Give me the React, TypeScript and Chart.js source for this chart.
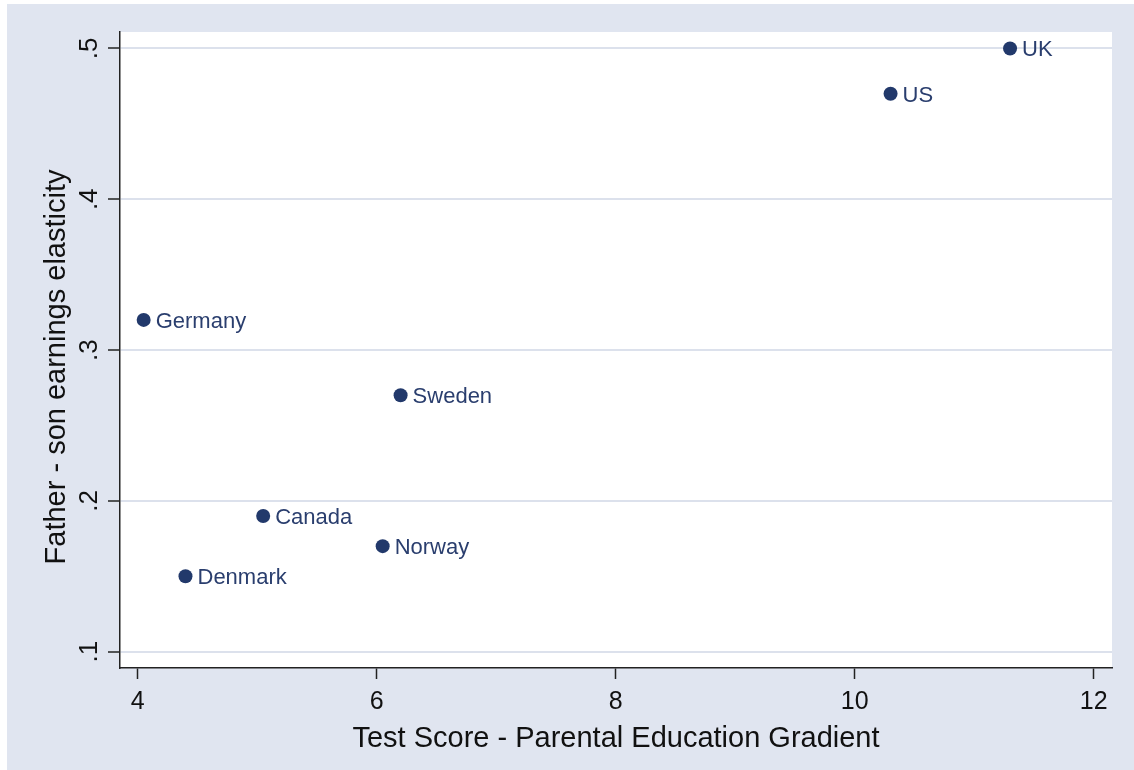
import { useEffect, useRef } from "react";
import { Chart, registerables } from "chart.js";

Chart.register(...registerables);

const countries = ["UK", "US", "Germany", "Sweden", "Canada", "Norway", "Denmark"];
const gradient = [11.3, 10.3, 4.05, 6.2, 5.05, 6.05, 4.4];
const elasticity = [0.5, 0.47, 0.32, 0.27, 0.19, 0.17, 0.15];
const xTicks = [4, 6, 8, 10, 12];
const yTicks = [0.1, 0.2, 0.3, 0.4, 0.5];
const yTickLabels = [".1", ".2", ".3", ".4", ".5"];
const xTitle = "Test Score - Parental Education Gradient";
const yTitle = "Father - son earnings elasticity";

const FONT = "'Liberation Sans', Arial, sans-serif";
const BG = "#E0E5F0";
const NAVY = "#22396B";
const LABEL = "#2A3E6E";
const INK = "#111111";

const decor = {
  id: "decor",
  beforeDraw(chart: any) {
    const { ctx, width, height, chartArea: a } = chart;
    ctx.save();
    ctx.fillStyle = "#ffffff";
    ctx.fillRect(0, 0, width, height);
    ctx.fillStyle = BG;
    ctx.fillRect(7, 4, width - 7, height - 4);
    ctx.fillStyle = "#ffffff";
    ctx.fillRect(a.left, a.top, a.right - a.left, a.bottom - a.top);
    ctx.restore();
  },
  afterDraw(chart: any) {
    const { ctx, chartArea: a, scales } = chart;
    const ys = scales.y;
    const xs = scales.x;
    ctx.save();
    ctx.fillStyle = INK;
    ctx.textAlign = "center";
    ctx.textBaseline = "alphabetic";
    ctx.font = `26px ${FONT}`;
    yTicks.forEach((v, i) => {
      const py = ys.getPixelForValue(v);
      ctx.save();
      ctx.translate(a.left - 23, py);
      ctx.rotate(-Math.PI / 2);
      ctx.fillText(yTickLabels[i], 0, 0);
      ctx.restore();
    });
    ctx.font = `29px ${FONT}`;
    ctx.fillText(xTitle, (a.left + a.right) / 2, a.bottom + 78.5);
    ctx.save();
    ctx.translate(a.left - 55, (a.top + a.bottom) / 2 + 17);
    ctx.rotate(-Math.PI / 2);
    ctx.fillText(yTitle, 0, 0);
    ctx.restore();

    ctx.fillStyle = LABEL;
    ctx.textAlign = "left";
    ctx.font = `22px ${FONT}`;
    countries.forEach((c, i) => {
      const px = xs.getPixelForValue(gradient[i]);
      const py = ys.getPixelForValue(elasticity[i]);
      ctx.fillText(c, px + 12, py + 7.9);
    });
    ctx.restore();
  },
};

export default function App() {
  const ref = useRef<HTMLCanvasElement | null>(null);
  useEffect(() => {
    if (!ref.current) return;
    const chart = new Chart(ref.current, {
      type: "scatter",
      data: {
        datasets: [
          {
            data: countries.map((_, i) => ({ x: gradient[i], y: elasticity[i] })),
            backgroundColor: NAVY,
            borderColor: NAVY,
            borderWidth: 0,
            pointRadius: 7,
            pointHoverRadius: 7,
            clip: false as any,
          },
        ],
      },
      options: {
        animation: false,
        responsive: false,
        events: [],
        layout: { padding: { left: 0, top: 32, right: 22, bottom: 0 } },
        plugins: { legend: { display: false }, tooltip: { enabled: false } },
        scales: {
          x: {
            type: "linear",
            min: 3.852,
            max: 12.153,
            afterBuildTicks: (s: any) => {
              s.ticks = xTicks.map((v) => ({ value: v }));
            },
            afterFit: (s: any) => {
              s.height = 102;
            },
            grid: {
              drawOnChartArea: false,
              drawTicks: true,
              tickLength: 11,
              tickColor: "#222222",
              tickWidth: 1.5,
            },
            border: { display: true, color: "#222222", width: 1.5 },
            ticks: {
              font: { family: FONT, size: 25 },
              color: INK,
              padding: 8,
              maxRotation: 0,
              minRotation: 0,
              callback: (v: any) => String(v),
            },
          },
          y: {
            type: "linear",
            min: 0.0892,
            max: 0.5109,
            afterBuildTicks: (s: any) => {
              s.ticks = yTicks.map((v) => ({ value: v }));
            },
            afterFit: (s: any) => {
              s.width = 120;
            },
            grid: {
              color: "#DCE1EC",
              lineWidth: 2,
              drawTicks: true,
              tickLength: 12,
              tickColor: "#222222",
              tickWidth: 1.5,
            },
            border: { display: true, color: "#222222", width: 1.5 },
            ticks: { display: false },
          },
        },
      },
      plugins: [decor],
    });
    return () => chart.destroy();
  }, []);
  return (
    <canvas
      ref={ref}
      width={1134}
      height={770}
      style={{ position: "absolute", left: 0, top: 0, width: 1134, height: 770, display: "block" }}
    />
  );
}
